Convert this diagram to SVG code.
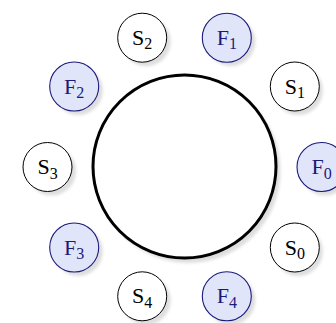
<svg xmlns="http://www.w3.org/2000/svg" width="336" height="323" viewBox="0 0 336 323">
<defs>
<filter id="blur" x="-30%" y="-30%" width="160%" height="160%"><feGaussianBlur stdDeviation="1.8"/></filter>
</defs>
<style>
.sh{fill:#000;fill-opacity:0.13;filter:url(#blur)}
.s .n{fill:#fff;stroke:#000;stroke-width:1}
.f .n{fill:#e1e5f9;stroke:#1a1a7a;stroke-width:1.1}
text{font-family:"Liberation Serif","DejaVu Serif",serif;font-size:22px;text-anchor:middle}
.s text{fill:#000}
.f text{fill:#1a1a7a}
.sub{font-size:16px}
.big{fill:#fff;stroke:#000;stroke-width:3}
</style>
<g id="ring">
<circle class="sh" cx="188.5" cy="171" r="92"/>
<circle class="big" cx="184.5" cy="166.5" r="91.5"/>
</g>
<g id="F0" class="f"><circle class="sh" cx="325" cy="171" r="24.5"/><circle class="n" cx="321.5" cy="167" r="24.5"/><text x="321.5" y="174">F<tspan class="sub" dy="4.5">0</tspan></text></g>
<g id="S1" class="s"><circle class="sh" cx="298.3" cy="90.5" r="24.5"/><circle class="n" cx="294.8" cy="86.5" r="24.5"/><text x="294.8" y="93.5">S<tspan class="sub" dy="4.5">1</tspan></text></g>
<g id="F1" class="f"><circle class="sh" cx="230.8" cy="41.7" r="24.5"/><circle class="n" cx="226.8" cy="37.7" r="24.5"/><text x="226.8" y="44.7">F<tspan class="sub" dy="4.5">1</tspan></text></g>
<g id="S2" class="s"><circle class="sh" cx="146.2" cy="41.7" r="24.5"/><circle class="n" cx="142.2" cy="37.7" r="24.5"/><text x="142.2" y="44.7">S<tspan class="sub" dy="4.5">2</tspan></text></g>
<g id="F2" class="f"><circle class="sh" cx="78.2" cy="90.5" r="24.5"/><circle class="n" cx="74.2" cy="86.5" r="24.5"/><text x="74.2" y="93.5">F<tspan class="sub" dy="4.5">2</tspan></text></g>
<g id="S3" class="s"><circle class="sh" cx="51.5" cy="171" r="24.5"/><circle class="n" cx="47.5" cy="167" r="24.5"/><text x="47.5" y="174">S<tspan class="sub" dy="4.5">3</tspan></text></g>
<g id="F3" class="f"><circle class="sh" cx="78.2" cy="251.5" r="24.5"/><circle class="n" cx="74.2" cy="247.5" r="24.5"/><text x="74.2" y="254.5">F<tspan class="sub" dy="4.5">3</tspan></text></g>
<g id="S4" class="s"><circle class="sh" cx="146.2" cy="300.3" r="24.5"/><circle class="n" cx="142.2" cy="296.3" r="24.5"/><text x="142.2" y="303.3">S<tspan class="sub" dy="4.5">4</tspan></text></g>
<g id="F4" class="f"><circle class="sh" cx="230.8" cy="300.3" r="24.5"/><circle class="n" cx="226.8" cy="296.3" r="24.5"/><text x="226.8" y="303.3">F<tspan class="sub" dy="4.5">4</tspan></text></g>
<g id="S0" class="s"><circle class="sh" cx="298.3" cy="251.5" r="24.5"/><circle class="n" cx="294.8" cy="247.5" r="24.5"/><text x="294.8" y="254.5">S<tspan class="sub" dy="4.5">0</tspan></text></g>
<g id="connectors"></g>
</svg>
